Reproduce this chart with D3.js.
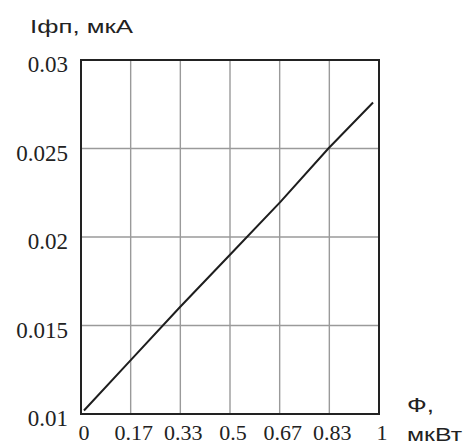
<!DOCTYPE html>
<html>
<head>
<meta charset="utf-8">
<script src="https://cdn.jsdelivr.net/npm/d3@7"></script>
<style>
  html, body { margin: 0; padding: 0; background: #fff; }
  svg { display: block; }
  .serif { font-family: 'Liberation Serif', 'Times New Roman', serif; }
  .sans { font-family: 'Liberation Sans', Arial, sans-serif; }
</style>
</head>
<body>
<svg id="chart" width="470" height="448"></svg>
<script>
// Photocurrent vs. luminous flux
const fluxValues = [0.01, 0.17, 0.33, 0.5, 0.67, 0.83, 0.98];
const currentValues = [0.0102, 0.0131, 0.0160, 0.0190, 0.0220, 0.0250, 0.0276];
const xTicks = [0, 1/6, 2/6, 3/6, 4/6, 5/6, 1];
const xTickLabels = ["0", "0.17", "0.33", "0.5", "0.67", "0.83", "1"];
const yTicks = [0.01, 0.015, 0.02, 0.025, 0.03];
const yTickLabels = ["0.01", "0.015", "0.02", "0.025", "0.03"];

const svg = d3.select("#chart");
const plotL = 81, plotR = 379, plotT = 60, plotB = 414;

const x = d3.scaleLinear().domain([0, 1]).range([plotL, plotR]);
const y = d3.scaleLinear().domain([0.01, 0.03]).range([plotB, plotT]);

// grid
svg.append("g").selectAll("line").data(xTicks.slice(1, -1)).join("line")
  .attr("x1", d => x(d)).attr("x2", d => x(d))
  .attr("y1", plotT).attr("y2", plotB)
  .attr("stroke", "#9a9a9a").attr("stroke-width", 1.4);
svg.append("g").selectAll("line").data(yTicks.slice(1, -1)).join("line")
  .attr("x1", plotL).attr("x2", plotR)
  .attr("y1", d => y(d)).attr("y2", d => y(d))
  .attr("stroke", "#9a9a9a").attr("stroke-width", 1.4);

// data line
const line = d3.line().x((d, i) => x(fluxValues[i])).y(d => y(d));
svg.append("path").datum(currentValues)
  .attr("d", line)
  .attr("fill", "none").attr("stroke", "#1e1e1e").attr("stroke-width", 2);

// frame
svg.append("rect")
  .attr("x", plotL).attr("y", plotT)
  .attr("width", plotR - plotL).attr("height", plotB - plotT)
  .attr("fill", "none").attr("stroke", "#222").attr("stroke-width", 2);

// y tick labels
svg.append("g").selectAll("text").data(yTicks).join("text")
  .attr("class", "serif")
  .attr("x", plotL - 13).attr("y", d => y(d) + 12)
  .attr("text-anchor", "end")
  .attr("font-size", 23).attr("fill", "#222")
  .text((d, i) => yTickLabels[i]);

// x tick labels
svg.append("g").selectAll("text").data(xTicks).join("text")
  .attr("class", "serif")
  .attr("x", d => x(d) + 3).attr("y", plotB + 26)
  .attr("text-anchor", "middle")
  .attr("font-size", 22).attr("fill", "#222")
  .text((d, i) => xTickLabels[i]);

// axis titles (wide sans lettering)
svg.append("text").attr("class", "sans")
  .attr("x", 30).attr("y", 33)
  .attr("font-size", 19).attr("fill", "#222")
  .attr("textLength", 103).attr("lengthAdjust", "spacingAndGlyphs")
  .text("Iфп, мкА");
svg.append("text").attr("class", "sans")
  .attr("x", 407).attr("y", 412)
  .attr("font-size", 20).attr("fill", "#222")
  .attr("textLength", 27).attr("lengthAdjust", "spacingAndGlyphs")
  .text("Ф,");
svg.append("text").attr("class", "sans")
  .attr("x", 407).attr("y", 441)
  .attr("font-size", 19).attr("fill", "#222")
  .attr("textLength", 55).attr("lengthAdjust", "spacingAndGlyphs")
  .text("мкВт");
</script>
</body>
</html>
